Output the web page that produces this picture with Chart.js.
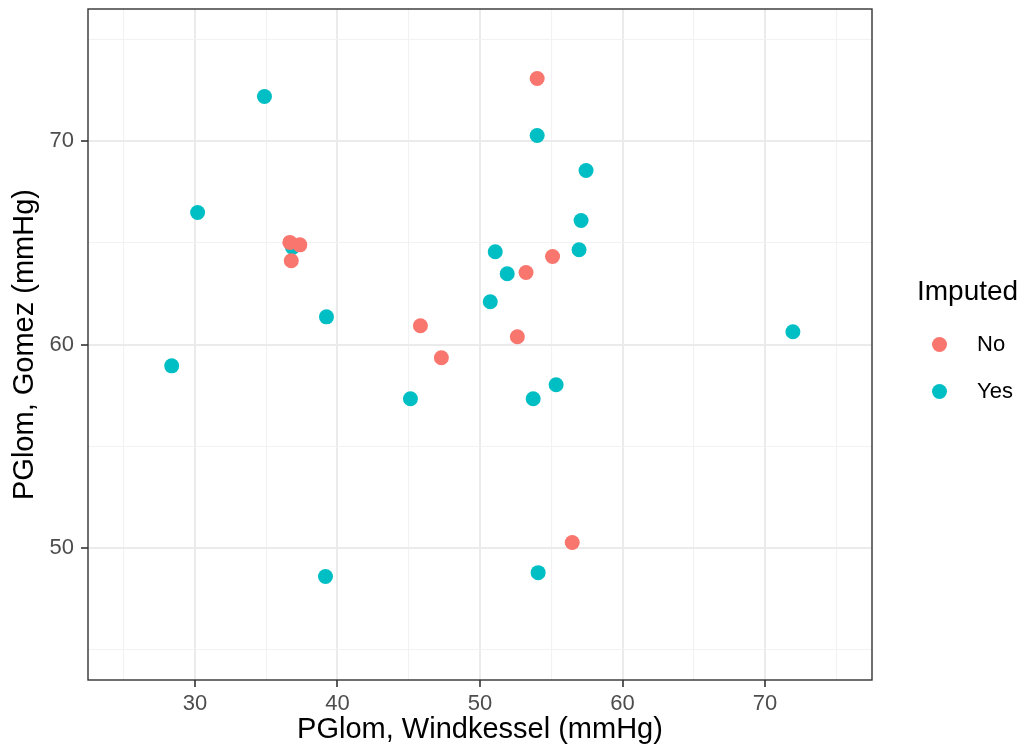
<!DOCTYPE html>
<html>
<head>
<meta charset="utf-8">
<script src="https://cdn.jsdelivr.net/npm/chart.js@4/dist/chart.umd.min.js"></script>
<style>
  html, body { margin: 0; padding: 0; background: #ffffff; }
  #wrap { position: relative; width: 1024px; height: 749px; }
  #legend { position: absolute; left: 0; top: 0; width: 1024px; height: 749px; pointer-events: none;
            font-family: "Liberation Sans", Arial, sans-serif; color: #000; }
  .lt { position: absolute; font-size: 28px; left: 917px; top: 274px; line-height: 34px; white-space: nowrap; }
  .li { position: absolute; font-size: 22px; left: 977px; line-height: 26px; white-space: nowrap; }
  .dot { position: absolute; width: 15px; height: 15px; border-radius: 50%; }
</style>
</head>
<body>
<div id="wrap">
  <canvas id="c" width="1024" height="749"></canvas>
  <div id="legend"></div>
</div>
<script>
// ---- data ----
const seriesNames = ["No", "Yes"];
const seriesColors = ["#F8766D", "#00BFC4"];
const noX  = [54.01, 36.66, 37.36, 36.76, 45.82, 47.29, 52.62, 53.23, 55.09, 56.47];
const noY  = [73.08, 65.02, 64.90, 64.12, 60.92, 59.35, 60.38, 63.54, 64.33, 50.26];
const yesX = [34.88, 30.19, 28.37, 39.23, 39.16, 36.85, 45.12, 50.72, 51.07, 51.91, 54.01, 57.44, 57.09, 56.95, 55.34, 53.73, 54.08, 71.95];
const yesY = [72.20, 66.49, 58.95, 61.36, 48.59, 64.77, 57.33, 62.10, 64.56, 63.48, 70.28, 68.56, 66.10, 64.66, 58.02, 57.33, 48.78, 60.63];
const xGrid = [25, 30, 35, 40, 45, 50, 55, 60, 65, 70, 75];
const yGrid = [45, 50, 55, 60, 65, 70, 75];
const xTickLabels = [30, 40, 50, 60, 70];
const yTickLabels = [50, 60, 70];
const xTitle = "PGlom, Windkessel (mmHg)";
const yTitle = "PGlom, Gomez (mmHg)";
const legendTitle = "Imputed";

const toPts = (xs, ys) => xs.map((x, i) => ({ x: x, y: ys[i] }));
const FONT = '"Liberation Sans", Arial, sans-serif';

const isMajor = (v, labels) => labels.indexOf(v) >= 0;

const borderPlugin = {
  id: 'panelBorder',
  afterDatasetsDraw(chart) {
    const a = chart.chartArea, ctx = chart.ctx;
    ctx.save();
    ctx.strokeStyle = '#333333';
    ctx.lineWidth = 1.4;
    ctx.strokeRect(a.left, a.top, a.right - a.left, a.bottom - a.top);
    ctx.restore();
  }
};

function gridOpts(labels) {
  return {
    color: (c) => isMajor(c.tick && c.tick.value, labels) ? '#EBEBEB' : '#F2F2F2',
    lineWidth: (c) => isMajor(c.tick && c.tick.value, labels) ? 2 : 1.1,
    tickColor: (c) => isMajor(c.tick && c.tick.value, labels) ? '#333333' : 'rgba(0,0,0,0)',
    tickWidth: 1.6,
    tickLength: 7,
    drawTicks: true
  };
}

new Chart(document.getElementById('c'), {
  type: 'scatter',
  data: {
    datasets: [
      { label: seriesNames[0], data: toPts(noX, noY), backgroundColor: seriesColors[0], borderWidth: 0, pointRadius: 7.5, pointHoverRadius: 7.5 },
      { label: seriesNames[1], data: toPts(yesX, yesY), backgroundColor: seriesColors[1], borderWidth: 0, pointRadius: 7.5, pointHoverRadius: 7.5 }
    ]
  },
  options: {
    responsive: false,
    animation: false,
    devicePixelRatio: 1,
    layout: { padding: { left: 0, right: 152, top: 9, bottom: 0 } },
    plugins: { legend: { display: false }, tooltip: { enabled: false } },
    scales: {
      x: {
        type: 'linear', min: 22.5, max: 77.5,
        afterBuildTicks: (s) => { s.ticks = xGrid.map(v => ({ value: v })); },
        afterFit: (s) => { s.height = 69; s.paddingLeft = 0; s.paddingRight = 0; },
        grid: gridOpts(xTickLabels),
        border: { display: false },
        ticks: {
          autoSkip: false, maxRotation: 0, padding: 4,
          color: '#4D4D4D', font: { family: FONT, size: 22 },
          callback: (v) => isMajor(v, xTickLabels) ? String(v) : ''
        },
        title: { display: true, text: xTitle, color: '#000000', font: { family: FONT, size: 29 }, padding: { top: 0, bottom: 2 } }
      },
      y: {
        type: 'linear', min: 43.5, max: 76.5,
        afterBuildTicks: (s) => { s.ticks = yGrid.map(v => ({ value: v })); },
        afterFit: (s) => { s.width = 88; s.paddingTop = 0; s.paddingBottom = 0; },
        grid: gridOpts(yTickLabels),
        border: { display: false },
        ticks: {
          autoSkip: false, padding: 7,
          color: '#4D4D4D', font: { family: FONT, size: 22 },
          callback: (v) => isMajor(v, yTickLabels) ? String(v) : ''
        },
        title: { display: true, text: yTitle, color: '#000000', font: { family: FONT, size: 29 }, padding: { top: 8, bottom: 0 } }
      }
    }
  },
  plugins: [borderPlugin]
});

// legend (HTML text)
const lg = document.getElementById('legend');
const t = document.createElement('div');
t.className = 'lt'; t.textContent = legendTitle; lg.appendChild(t);
const itemY = [344, 391];
seriesNames.forEach((n, i) => {
  const d = document.createElement('div');
  d.className = 'dot'; d.style.background = seriesColors[i];
  d.style.left = (939 - 7.5) + 'px'; d.style.top = (itemY[i] - 7.5) + 'px';
  lg.appendChild(d);
  const l = document.createElement('div');
  l.className = 'li'; l.textContent = n; l.style.top = (itemY[i] - 13) + 'px';
  lg.appendChild(l);
});
</script>
</body>
</html>
